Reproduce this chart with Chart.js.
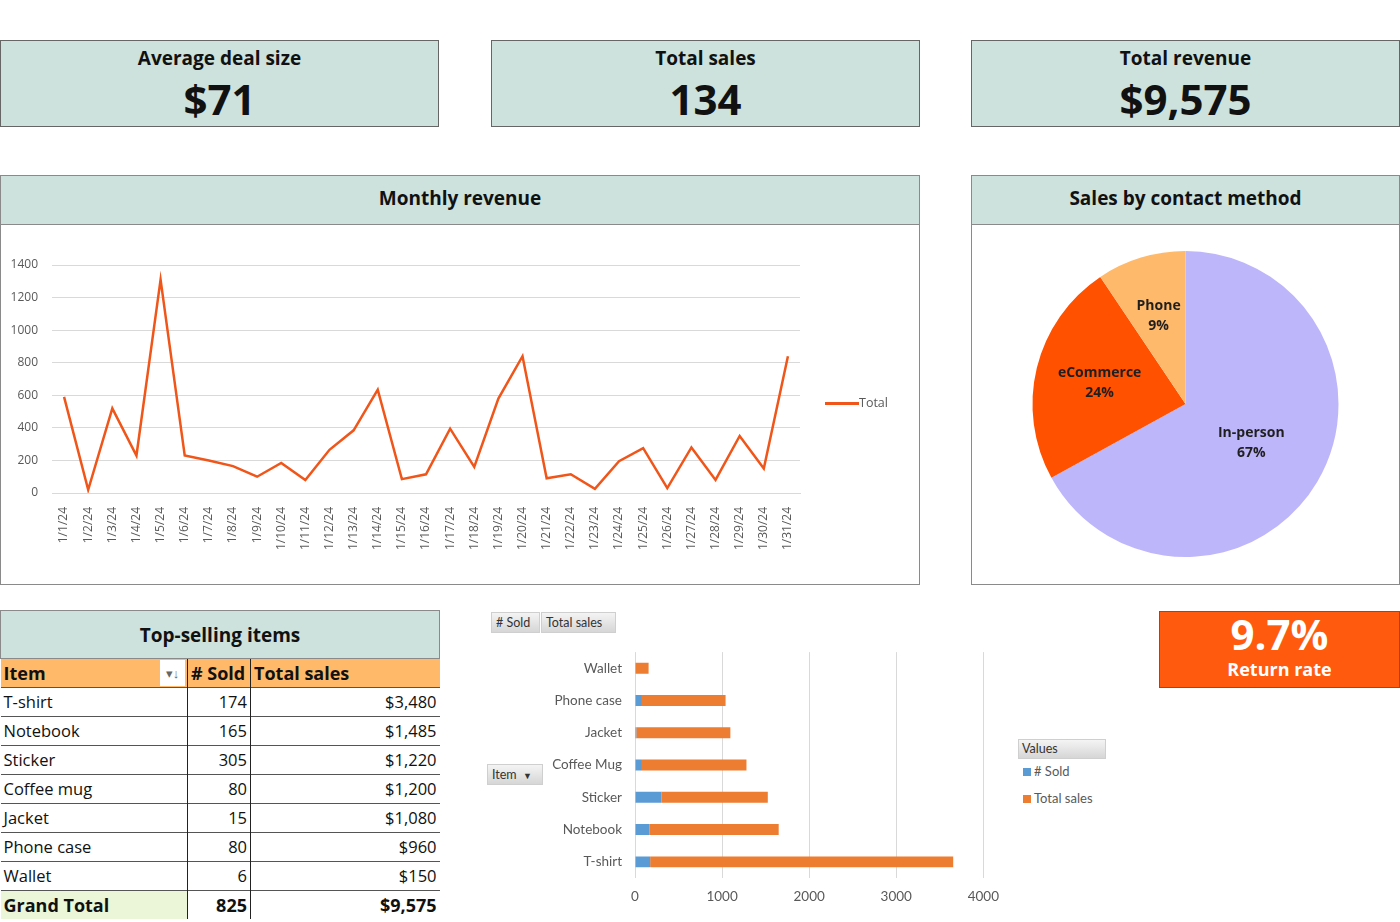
<!DOCTYPE html>
<html>
<head>
<meta charset="utf-8">
<title>Sales dashboard</title>
<script src="https://cdn.jsdelivr.net/npm/chart.js@4.4.1/dist/chart.umd.min.js"></script>
<style>
html, body { margin: 0; padding: 0; background: #fff; }
body { width: 1400px; height: 922px; position: relative; overflow: hidden; font-family: "Open Sans", sans-serif; color: #111; }
.abs { position: absolute; box-sizing: border-box; }
.kpi { top: 40px; height: 87px; background: #CDE1DD; border: 1px solid #666; text-align: center; }
.kpi .t { font-weight: 700; font-size: 19px; line-height: 24px; margin-top: 5px; }
.kpi .v { font-weight: 700; font-size: 42px; line-height: 48px; margin-top: 5px; }
.panel { border: 1px solid #8a8a8a; background: #fff; }
.panel .hd { height: 48px; background: #CDE1DD; border-bottom: 1px solid #8a8a8a; text-align: center; font-weight: 700; font-size: 19px; line-height: 44px; }
.legline { display: inline-block; width: 34px; height: 3px; background: #F0561A; vertical-align: middle; }
#tbl { left: 0; top: 610px; width: 439px; border-collapse: collapse; table-layout: fixed; }
#tbl td { height: 28px; padding: 0 3px; border-top: 1px solid #555; font-size: 16.5px; line-height: 28px; white-space: nowrap; overflow: hidden; }
#tbl td.n { text-align: right; border-left: 1px solid #222; }
#tbl tr.title td { height: 47px; background: #CDE1DD; border: 1px solid #8a8a8a; text-align: center; font-weight: 700; font-size: 19px; line-height: 38px; }
#tbl tr.head td { background: #FFB968; font-weight: 700; font-size: 18px; position: relative; }
#tbl tr.head td.n { text-align: left; }
#tbl tr.total td { font-weight: 700; font-size: 18px; border-top: 1px solid #555; }
#tbl tr.total td.first { background: #EBF6D9; }
.filt { position: absolute; right: 2px; top: 1px; width: 25px; height: 26px; background: #fff; color: #666; font-size: 13px; line-height: 26px; text-align: center; font-weight: 400; }
.fbtn { height: 21px; background: linear-gradient(#f4f4f4, #d6d6d6); border: 1px solid #cfcfcf; font-family: Lato, sans-serif; font-size: 12.5px; color: #333; line-height: 19px; padding: 0 4px; }
.lg { font-family: Lato, sans-serif; font-size: 13px; color: #595959; }
.sq { display: inline-block; width: 8px; height: 8px; margin-right: 3px; vertical-align: 0; }
#ret { left: 1159px; top: 611px; width: 241px; height: 77px; background: #FF5A0D; border: 1px solid #B84000; color: #fff; text-align: center; font-weight: 700; }
</style>
</head>
<body>

<div class="abs kpi" style="left:0; width:439px;"><div class="t">Average deal size</div><div class="v">$71</div></div>
<div class="abs kpi" style="left:491px; width:429px;"><div class="t">Total sales</div><div class="v">134</div></div>
<div class="abs kpi" style="left:971px; width:429px;"><div class="t">Total revenue</div><div class="v">$9,575</div></div>

<div class="abs panel" style="left:0; top:175px; width:920px; height:410px;"><div class="hd">Monthly revenue</div></div>
<div class="abs" style="left:0; top:224px; width:918px; height:360px;"><canvas id="line-chart-revenue"></canvas></div>
<div class="abs lg" style="left:825px; top:394px; font-family:'Open Sans', sans-serif; font-size:12.5px;"><span class="legline"></span>Total</div>

<div class="abs panel" style="left:971px; top:175px; width:429px; height:410px;"><div class="hd">Sales by contact method</div></div>
<div class="abs" style="left:972px; top:224px; width:427px; height:360px;"><canvas id="pie-chart-contact"></canvas></div>

<table id="tbl" class="abs"></table>

<div class="abs" style="left:480px; top:631px; width:530px; height:291px;"><canvas id="bar-chart-items"></canvas></div>
<div class="abs fbtn" style="left:491px; top:612px; width:49px;"># Sold</div>
<div class="abs fbtn" style="left:541px; top:612px; width:75px;">Total sales</div>
<div class="abs fbtn" style="left:487px; top:764px; width:56px;">Item &nbsp;<span style="font-size:9px;">&#9660;</span></div>
<div class="abs fbtn" style="left:1018px; top:739px; width:88px; height:20px; line-height:18px; padding-left:3px;">Values</div>
<div class="abs lg" style="left:1023px; top:763px;"><span class="sq" style="background:#5B9BD5;"></span># Sold</div>
<div class="abs lg" style="left:1023px; top:790px;"><span class="sq" style="background:#ED7D31;"></span>Total sales</div>

<div id="ret" class="abs"><div style="font-size:42px; line-height:44px;">9.7%</div><div style="font-size:18px; line-height:24px; margin-top:1px;">Return rate</div></div>

<script>
var days = ['1/1/24', '1/2/24', '1/3/24', '1/4/24', '1/5/24', '1/6/24', '1/7/24', '1/8/24', '1/9/24', '1/10/24',
    '1/11/24', '1/12/24', '1/13/24', '1/14/24', '1/15/24', '1/16/24', '1/17/24', '1/18/24', '1/19/24', '1/20/24',
    '1/21/24', '1/22/24', '1/23/24', '1/24/24', '1/25/24', '1/26/24', '1/27/24', '1/28/24', '1/29/24', '1/30/24', '1/31/24'];
var dailyRevenue = [590, 20, 520, 230, 1310, 230, 200, 165, 100, 185,
    80, 265, 385, 635, 85, 115, 395, 160, 580, 840,
    90, 115, 25, 195, 275, 30, 280, 80, 350, 150, 840];
var revenueTicks = [0, 200, 400, 600, 800, 1000, 1200, 1400];

var contactMethods = ['In-person', 'eCommerce', 'Phone'];
var contactShares = [67.0, 23.6, 9.4];
var contactColors = ['#BDB6FB', '#FF5100', '#FFB96B'];

var tableItems = ['T-shirt', 'Notebook', 'Sticker', 'Coffee mug', 'Jacket', 'Phone case', 'Wallet'];
var tableSold = [174, 165, 305, 80, 15, 80, 6];
var tableSales = [3480, 1485, 1220, 1200, 1080, 960, 150];

var barItems = ['Wallet', 'Phone case', 'Jacket', 'Coffee Mug', 'Sticker', 'Notebook', 'T-shirt'];
var barSold = [6, 80, 15, 80, 305, 165, 174];
var barSales = [150, 960, 1080, 1200, 1220, 1485, 3480];
var barTicks = [0, 1000, 2000, 3000, 4000];

Chart.defaults.font.family = '"Open Sans", sans-serif';
Chart.defaults.animation = false;

$ = function (id) { return document.getElementById(id); };

showRevenue();
showContact();
showTable();
showItems();

function plainTick(value) {
    return String(value);
}

function showRevenue() {
    new Chart($('line-chart-revenue'), {
        type: 'line',
        data: {
            labels: days,
            datasets: [{
                label: 'Total',
                data: dailyRevenue,
                borderColor: '#F0561A',
                borderWidth: 2.5,
                pointRadius: 0,
                tension: 0
            }]
        },
        options: {
            responsive: true,
            maintainAspectRatio: false,
            layout: { padding: { left: 8, right: 118, top: 41, bottom: 0 } },
            plugins: { legend: { display: false }, tooltip: { enabled: false } },
            scales: {
                x: {
                    offset: true,
                    grid: { display: false },
                    border: { color: '#D9D9D9' },
                    ticks: { minRotation: 90, maxRotation: 90, autoSkip: false, color: '#595959', font: { size: 12 }, padding: 6 },
                    afterFit: function (scale) { scale.height = 91; }
                },
                y: {
                    min: 0,
                    max: 1400,
                    grid: { color: '#D9D9D9', drawTicks: false },
                    border: { display: false },
                    afterBuildTicks: function (scale) {
                        scale.ticks = revenueTicks.map(function (v) { return { value: v }; });
                    },
                    ticks: { color: '#595959', font: { size: 12 }, padding: 14, callback: plainTick },
                    afterFit: function (scale) { scale.width = 44; }
                }
            }
        }
    });
}

function showContact() {
    var total = contactShares.reduce(function (a, b) { return a + b; }, 0);
    var pieLabels = {
        id: 'pieLabels',
        afterDatasetsDraw: function (chart) {
            var ctx = chart.ctx;
            chart.getDatasetMeta(0).data.forEach(function (arc, i) {
                var p = arc.getProps(['x', 'y', 'startAngle', 'endAngle', 'outerRadius']);
                var mid = (p.startAngle + p.endAngle) / 2;
                // thin slices get their label pushed further out, like Excel's best fit
                var r = p.outerRadius * (0.62 - 0.18 * contactShares[i] / total);
                var x = p.x + Math.cos(mid) * r;
                var y = p.y + Math.sin(mid) * r;
                ctx.save();
                ctx.font = 'bold 14px "Open Sans"';
                ctx.fillStyle = '#1f1f1f';
                ctx.textAlign = 'center';
                ctx.textBaseline = 'middle';
                ctx.fillText(contactMethods[i], x, y - 10);
                ctx.fillText(Math.round(contactShares[i] / total * 100) + '%', x, y + 10);
                ctx.restore();
            });
        }
    };
    new Chart($('pie-chart-contact'), {
        type: 'pie',
        data: {
            labels: contactMethods,
            datasets: [{
                data: contactShares,
                backgroundColor: contactColors,
                borderWidth: 0
            }]
        },
        options: {
            responsive: true,
            maintainAspectRatio: false,
            layout: { padding: { top: 27, bottom: 27 } },
            plugins: { legend: { display: false }, tooltip: { enabled: false } }
        },
        plugins: [pieLabels]
    });
}

function money(v) {
    return '$' + v.toLocaleString('en-US');
}

function showTable() {
    var html = '<colgroup><col style="width:187px"><col style="width:63px"><col style="width:189px"></colgroup>';
    html += '<tr class="title"><td colspan="3">Top-selling items</td></tr>';
    html += '<tr class="head"><td>Item<span class="filt">&#9662;&#8595;</span></td><td class="n"># Sold</td><td class="n">Total sales</td></tr>';
    var soldSum = 0, salesSum = 0;
    for (var i = 0; i < tableItems.length; i++) {
        soldSum += tableSold[i];
        salesSum += tableSales[i];
        html += '<tr><td>' + tableItems[i] + '</td><td class="n">' + tableSold[i] + '</td><td class="n">' + money(tableSales[i]) + '</td></tr>';
    }
    html += '<tr class="total"><td class="first">Grand Total</td><td class="n">' + soldSum + '</td><td class="n">' + money(salesSum) + '</td></tr>';
    $('tbl').innerHTML = html;
}

function showItems() {
    new Chart($('bar-chart-items'), {
        type: 'bar',
        data: {
            labels: barItems,
            datasets: [
                { label: '# Sold', data: barSold, backgroundColor: '#5B9BD5' },
                { label: 'Total sales', data: barSales, backgroundColor: '#ED7D31' }
            ]
        },
        options: {
            indexAxis: 'y',
            responsive: true,
            maintainAspectRatio: false,
            layout: { padding: { left: 0, right: 23, top: 2, bottom: 0 } },
            datasets: { bar: { barPercentage: 0.34, categoryPercentage: 1 } },
            plugins: { legend: { display: false }, tooltip: { enabled: false } },
            scales: {
                x: {
                    stacked: true,
                    min: 0,
                    max: 4000,
                    grid: { color: '#D9D9D9', drawTicks: false },
                    border: { display: false },
                    afterBuildTicks: function (scale) {
                        scale.ticks = barTicks.map(function (v) { return { value: v }; });
                    },
                    ticks: { color: '#595959', font: { family: 'Lato, sans-serif', size: 13.5 }, padding: 11, callback: plainTick },
                    afterFit: function (scale) { scale.height = 44; }
                },
                y: {
                    stacked: true,
                    grid: { display: false, drawTicks: false },
                    border: { display: false },
                    ticks: { color: '#595959', font: { family: 'Lato, sans-serif', size: 13.5 }, padding: 13 },
                    afterFit: function (scale) { scale.width = 155; }
                }
            }
        }
    });
}
</script>
</body>
</html>
